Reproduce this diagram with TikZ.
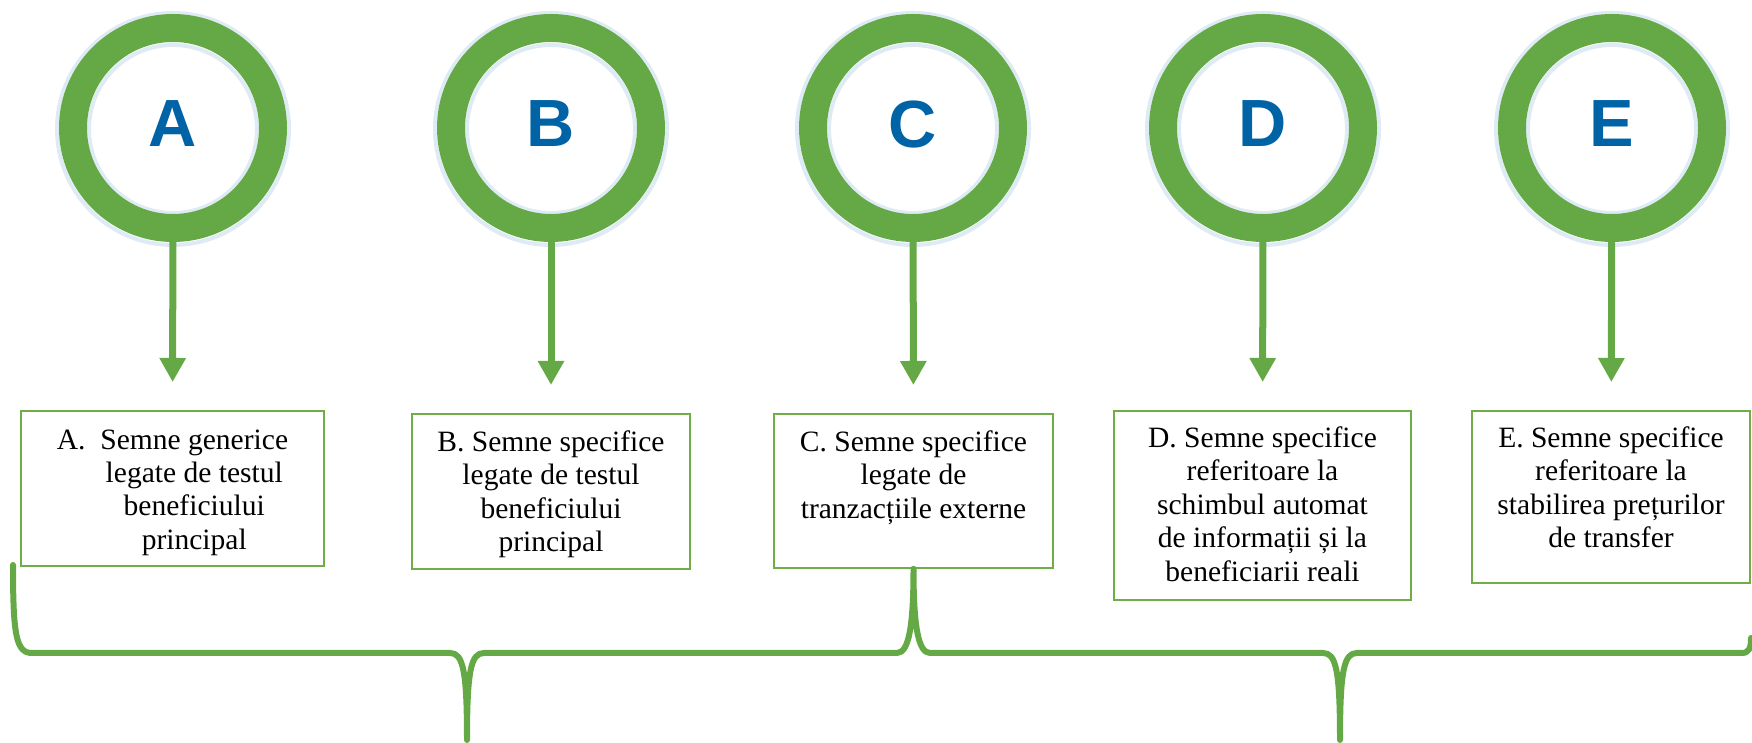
\documentclass[tikz,border=0pt]{standalone}
\usepackage{fontspec}
\setmainfont{Liberation Serif}
\newfontfamily\lettfont{Liberation Sans}
\usetikzlibrary{arrows.meta}
\definecolor{grn}{RGB}{101,169,70}
\definecolor{boxgrn}{RGB}{112,173,71}
\definecolor{lettblue}{RGB}{0,99,166}
\tikzset{
	ring/.style={circle, draw=grn, line width=0.28cm, minimum size=2cm, inner sep=0pt, text=lettblue, text depth=0.08cm, font=\lettfont\fontsize{19}{19}\bfseries\selectfont},
	glow/.style={draw=lettblue!25, line width=0.04cm, opacity=0.5},
	box/.style={draw=boxgrn, line width=0.5pt, inner sep=0pt, anchor=north},
	txt/.style={align=center, anchor=north, inner sep=0pt, font=\fontsize{8.4}{9.5}\selectfont},
	arr/.style={draw=grn, line width=0.07cm, -{Triangle[length=0.24cm,width=0.25cm]}, shorten >=0.28cm},
	brace/.style={draw=grn, line width=0.06cm, line cap=round, line join=round}
}
\begin{document}
\begin{tikzpicture}
	\useasboundingbox (0,0) rectangle (17.52,-7.43);
	% circles with letters
	\foreach \n/\x in {A/1.73, B/5.51, C/9.13, D/12.63, E/16.12}{
		\draw[glow] (\x,-1.29) circle(1.16);
		\draw[glow] (\x,-1.29) circle(0.84);
		\node[ring] (c\n) at (\x,-1.28) {\n};
	}
	% boxes
	\node[box, minimum width=3.03cm, minimum height=1.55cm] (bA) at (1.725,-4.10) {};
	\node[box, minimum width=2.78cm, minimum height=1.55cm] (bB) at (5.51,-4.13) {};
	\node[box, minimum width=2.79cm, minimum height=1.54cm] (bC) at (9.135,-4.13) {};
	\node[box, minimum width=2.97cm, minimum height=1.89cm] (bD) at (12.625,-4.10) {};
	\node[box, minimum width=2.78cm, minimum height=1.72cm] (bE) at (16.11,-4.10) {};
	\node[txt] (tA) at ([yshift=-0.15cm]bA.north) {A.\enspace\begin{tabular}[t]{@{}c@{}}Semne generice\\ legate de testul\\ beneficiului\\ principal\end{tabular}};
	\node[txt] (tB) at ([yshift=-0.17cm]bB.north) {B. Semne specifice\\ legate de testul\\ beneficiului\\ principal};
	\node[txt] (tC) at ([yshift=-0.17cm]bC.north) {C. Semne specifice\\ legate de\\ tranzacțiile externe};
	\node[txt] (tD) at ([yshift=-0.16cm]bD.north) {D. Semne specifice\\ referitoare la\\ schimbul automat\\ de informații și la\\ beneficiarii reali};
	\node[txt] (tE) at ([yshift=-0.16cm]bE.north) {E. Semne specifice\\ referitoare la\\ stabilirea prețurilor\\ de transfer};
	\foreach \n in {A,B,C,D,E} \draw[arr] (c\n) -- (b\n);
	% brace below
	\coordinate (tipB) at (4.67,-7.40);
	\coordinate (tipD) at (13.40,-7.40);
	\draw[brace] (0.13,-5.65) .. controls (0.13,-6.35) and (0.16,-6.53) .. (0.32,-6.53)
		-- (4.50,-6.53) .. controls (4.63,-6.53) and (4.67,-6.70) .. (tipB)
		.. controls (4.67,-6.70) and (4.71,-6.53) .. (4.84,-6.53)
		-- (8.97,-6.53) .. controls (9.09,-6.53) and (9.135,-6.25) .. (bC.south)
		.. controls (9.135,-6.25) and (9.18,-6.53) .. (9.30,-6.53)
		-- (13.23,-6.53) .. controls (13.36,-6.53) and (13.40,-6.70) .. (tipD)
		.. controls (13.40,-6.70) and (13.44,-6.53) .. (13.57,-6.53)
		-- (17.42,-6.53) .. controls (17.49,-6.53) and (17.51,-6.48) .. (17.51,-6.38);
\end{tikzpicture}
\end{document}
